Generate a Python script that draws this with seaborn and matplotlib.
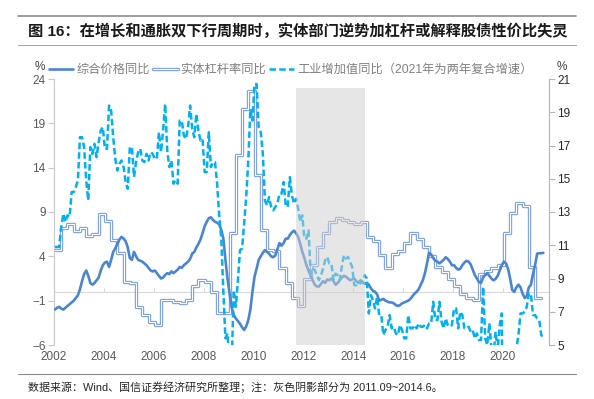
import numpy as np
import pandas as pd
import matplotlib
matplotlib.use('Agg')
import matplotlib.pyplot as plt
import matplotlib.patheffects as pe
import seaborn as sns
from matplotlib.lines import Line2D

# 综合价格同比（月度，2002-01 起）
price_yoy = [
    -2.0, -1.8, -1.7, -1.9, -2.0, -1.8, -1.6, -1.4, -1.2, -1.0, -0.7, -0.4,   # 2002
    0.3, 1.2, 2.0, 2.4, 1.8, 1.0, 0.8, 1.0, 1.3, 1.6, 2.4, 3.0,               # 2003
    3.3, 3.4, 2.8, 3.6, 4.5, 4.9, 5.4, 5.9, 6.2, 6.0, 5.7, 5.0,               # 2004
    3.8, 3.6, 4.5, 4.0, 3.6, 3.5, 3.4, 3.2, 3.0, 2.7, 2.4, 2.3,               # 2005
    2.4, 2.1, 1.8, 1.5, 1.6, 1.9, 2.1, 2.0, 2.3, 2.1, 2.3, 2.5,               # 2006
    2.8, 2.7, 3.0, 3.2, 3.4, 3.7, 4.3, 4.5, 5.0, 5.4, 5.9, 6.6,               # 2007
    7.4, 7.9, 8.3, 8.4, 8.1, 7.9, 7.8, 7.6, 7.0, 6.0, 3.6, 1.5,               # 2008
    -0.2, -1.8, -2.6, -3.0, -3.3, -3.6, -4.0, -4.3, -3.9, -3.2, -2.0, 0.0,    # 2009
    1.7, 2.6, 3.6, 4.0, 4.4, 4.7, 4.5, 4.3, 4.0, 3.9, 4.1, 4.8,               # 2010
    5.5, 5.2, 5.5, 6.0, 6.0, 6.4, 6.7, 6.9, 6.6, 6.2, 5.4, 4.5,               # 2011
    3.8, 3.0, 2.4, 1.8, 1.3, 0.8, 0.6, 0.6, 0.9, 1.2, 1.0, 1.4,               # 2012
    1.3, 1.5, 1.2, 0.8, 1.0, 1.3, 1.6, 1.8, 1.7, 1.5, 1.3, 1.4,               # 2013
    1.5, 1.2, 1.0, 1.3, 1.1, 0.9, 1.0, 0.8, 0.4, 0.1, 0.0, -0.3,              # 2014
    -1.0, -0.9, -0.8, -1.0, -1.1, -1.2, -1.2, -1.3, -1.5, -1.6, -1.5, -1.3,   # 2015
    -1.2, -1.1, -1.0, -0.8, -0.5, -0.2, 0.0, 0.3, 0.8, 1.3, 2.1, 3.2,         # 2016
    4.4, 4.2, 3.8, 3.5, 3.4, 3.2, 3.4, 3.6, 3.9, 3.7, 3.4, 3.0,               # 2017
    3.0, 2.7, 2.5, 2.6, 3.0, 3.3, 3.5, 3.4, 3.1, 2.5, 1.9, 1.5,               # 2018
    1.1, 1.0, 1.6, 1.9, 2.1, 1.8, 1.5, 1.3, 1.45, 1.8, 2.4, 3.0,              # 2019
    3.4, 3.2, 2.6, 1.5, 0.2, 0.0, 0.5, 0.8, 0.5, -0.2, -0.7, -0.5,            # 2020
    0.5, 0.8, 2.0, 3.0, 4.3, 4.35, 4.35, 4.4,                                 # 2021
]

# 工业增加值同比（月度，2002-01 起；2021年为两年复合增速）
iva_yoy = [
    10.9, 10.9, 10.9, 12.1, 12.9, 12.4, 12.8, 12.7, 14.2, 14.2, 14.5, 14.9,   # 2002
    17.5, 17.5, 16.9, 14.9, 13.7, 16.9, 16.5, 17.1, 16.3, 17.2, 17.9, 18.1,   # 2003
    16.8, 16.8, 19.4, 19.1, 17.5, 16.2, 15.5, 15.9, 16.1, 15.7, 14.8, 14.4,   # 2004
    16.9, 16.9, 15.1, 16.0, 16.6, 16.8, 16.1, 16.0, 16.5, 16.1, 16.6, 16.5,   # 2005
    16.2, 16.2, 17.8, 16.6, 17.9, 19.5, 16.7, 15.7, 16.1, 14.7, 14.9, 14.7,   # 2006
    18.5, 18.5, 17.6, 17.4, 18.1, 19.4, 18.0, 17.5, 18.9, 17.9, 17.3, 17.4,   # 2007
    15.4, 15.4, 17.8, 15.7, 16.0, 16.0, 14.7, 12.8, 11.4, 8.2, 5.4, 5.7,      # 2008
    3.8, 3.8, 8.3, 7.3, 8.9, 10.7, 10.8, 12.3, 13.9, 16.1, 19.2, 18.5,        # 2009
    20.7, 20.7, 18.1, 17.8, 16.5, 13.7, 13.4, 13.9, 13.3, 13.1, 13.3, 13.5,   # 2010
    14.1, 14.1, 14.8, 13.4, 13.3, 15.1, 14.0, 13.5, 13.8, 13.2, 12.4, 12.8,   # 2011
    11.4, 11.4, 11.9, 9.3, 9.6, 9.5, 9.2, 8.9, 9.2, 9.6, 10.1, 10.3,          # 2012
    9.9, 9.9, 8.9, 9.3, 9.2, 8.9, 9.7, 10.4, 10.2, 10.3, 10.0, 9.7,           # 2013
    8.6, 8.6, 8.8, 8.7, 8.8, 9.2, 9.0, 6.9, 8.0, 7.7, 7.2, 7.9,               # 2014
    6.8, 6.8, 5.6, 5.9, 6.1, 6.8, 6.0, 6.1, 5.7, 5.6, 6.2, 5.9,               # 2015
    5.4, 5.4, 6.8, 6.0, 6.0, 6.2, 6.0, 6.3, 6.1, 6.1, 6.2, 6.0,               # 2016
    6.3, 6.3, 7.6, 6.5, 6.5, 7.6, 6.4, 6.0, 6.6, 6.2, 6.1, 6.2,               # 2017
    7.2, 7.2, 6.0, 7.0, 6.8, 6.0, 6.0, 6.1, 5.8, 5.9, 5.4, 5.7,               # 2018
    5.3, 5.3, 8.5, 5.4, 5.0, 6.3, 4.8, 4.4, 5.8, 4.7, 6.2, 6.9,               # 2019
    -13.5, -13.5, -1.1, 3.9, 4.4, 4.8, 4.8, 5.6, 6.9, 6.9, 7.0, 7.3,          # 2020
    8.1, 8.1, 6.8, 6.8, 6.6, 6.5, 5.6, 5.4,                                   # 2021
]

# 实体杠杆率同比（季度，2002Q1 起）
lev_yoy = [
    4.7, 7.2, 7.6, 6.9,  7.2, 6.3, 6.5, 8.8,  8.0, 5.8, 4.4, 1.1,
    1.0, -1.7, -2.6, -3.4,  -3.7, -0.9, -0.9, -1.2,  -1.3, -0.9, 0.6, 1.3,
    1.1, 0.0, -2.4, -2.4,  6.6, 15.4, 20.6, 22.6,  13.2, 7.0, 4.7, 4.6,
    2.7, 1.0, -0.7, -1.6,  1.5, 3.0, 5.0, 6.6,  7.9, 8.3, 8.1, 7.9,
    7.7, 7.9, 6.2, 5.7,  4.2, 2.7, 4.3, 4.6,  5.5, 6.6, 5.9, 5.1,
    4.0, 2.8, 2.2, 1.4,  0.6, -0.3, -0.7, -0.9,  2.0, 2.3, 2.7, 3.0,
    6.6, 8.9, 10.0, 9.7,  2.8, -0.7, -0.7,
]

# 阴影区间：2011.09 ~ 2014.06
shade_start = pd.Timestamp('2011-09-15')
shade_end = pd.Timestamp('2014-06-15')
shade_top = 23

labels = ['综合价格同比', '实体杠杆率同比', '工业增加值同比（2021年为两年复合增速）']


def to_year(dates):
    return dates.year + (dates.month - 1) / 12 + dates.day / 365


month_x = to_year(pd.date_range('2002-01-01', periods=len(price_yoy), freq='MS') + pd.Timedelta(days=14))
iva_x = to_year(pd.date_range('2002-01-01', periods=len(iva_yoy), freq='MS') + pd.Timedelta(days=14))
lev_x = to_year(pd.date_range('2002-01-01', periods=len(lev_yoy), freq='QS') + pd.Timedelta(days=14))

df_price = pd.DataFrame({'x': month_x, 'y': price_yoy})
df_iva = pd.DataFrame({'x': iva_x, 'y': iva_yoy})
df_lev = pd.DataFrame({'x': lev_x, 'y': lev_yoy})

sns.set_style('white')
plt.rcParams['font.family'] = ['Liberation Sans', 'Noto Sans CJK SC', 'DejaVu Sans']
plt.rcParams['axes.unicode_minus'] = True

c_price = '#4a86d0'
c_lev = '#7b9fe2'
c_iva = '#00b0f0'

fig = plt.figure(figsize=(5.94, 3.99), dpi=100)
ax = fig.add_axes([54 / 594, 1 - 345 / 399, (549 - 54) / 594, (345 - 79) / 399])
ax2 = ax.twinx()

sns.lineplot(data=df_price, x='x', y='y', ax=ax, color=c_price, lw=1.9, zorder=3)
sns.lineplot(data=df_lev, x='x', y='y', ax=ax, color='white', lw=0.8, drawstyle='steps-post', zorder=2,
             path_effects=[pe.Stroke(linewidth=2.4, foreground=c_lev), pe.Normal()])
sns.lineplot(data=df_iva, x='x', y='y', ax=ax2, color=c_iva, lw=1.8, linestyle=(0, (2.6, 1.3)), zorder=3)

ax.set_xlim(2002.04, 2021.85)
ax.set_ylim(-6, 24)
ax2.set_ylim(5, 21)
ax.set_yticks(np.arange(-6, 25, 5))
ax2.set_yticks(np.arange(5, 22, 2))
ax.set_xticks(np.arange(2002, 2021, 2))
ax.set_xlabel('')
ax.set_ylabel('')
ax2.set_ylabel('')

for a in (ax, ax2):
    for s in ['top', 'bottom']:
        a.spines[s].set_visible(False)
ax.spines['right'].set_visible(False)
ax2.spines['left'].set_visible(False)
ax.spines['left'].set_color('#c8c8c8')
ax2.spines['right'].set_color('#b4b4b4')

ax.tick_params(axis='y', direction='out', length=4, color='#c8c8c8', labelsize=8.5,
               labelcolor='#595959', pad=2)
ax2.tick_params(axis='y', direction='out', length=4, color='#b4b4b4', labelsize=8.5,
                labelcolor='#262626', pad=2)
ax.tick_params(axis='x', length=0, labelsize=8.5, labelcolor='#595959', pad=4)

# 零轴（横轴线）
zero_axis = ax.secondary_xaxis(6 / 30)
zero_axis.set_xticks(np.arange(2002, 2021, 2))
zero_axis.tick_params(axis='x', direction='in', length=3, color='#d9d9d9', labelbottom=False,
                      labeltop=False)
zero_axis.spines['bottom'].set_color('#d9d9d9')
zero_axis.spines['top'].set_color('#d9d9d9')
zero_axis.set_xticklabels([])

# 灰色阴影
ax2.axvspan(to_year(shade_start), to_year(shade_end), ymin=0, ymax=(shade_top + 6) / 30,
            facecolor='#cfcfcf', alpha=0.5, lw=0, zorder=10)

# 图例
h_price = Line2D([], [], color=c_price, lw=1.9)
h_lev = Line2D([], [], color='white', lw=0.8,
               path_effects=[pe.Stroke(linewidth=2.4, foreground=c_lev), pe.Normal()])
h_iva = Line2D([], [], color=c_iva, lw=1.8, linestyle=(0, (2.6, 1.3)))
leg = fig.legend([h_price, h_lev, h_iva], labels, loc='center left',
                 bbox_to_anchor=(49 / 594, 1 - 70 / 399), ncol=3, frameon=False,
                 fontsize=8.8, handlelength=2.0, handletextpad=0.25, columnspacing=0.25,
                 borderpad=0, borderaxespad=0)
for t in leg.get_texts():
    t.set_color('#808080')

fig.text(40 / 594, 1 - 67 / 399, '%', fontsize=8.5, color='#404040', ha='center', va='center')
fig.text(562 / 594, 1 - 67 / 399, '%', fontsize=8.5, color='#404040', ha='center', va='center')

# 标题与注释
fig.add_artist(Line2D([18 / 594, 576 / 594], [1 - 16 / 399] * 2, color='#8c8c8c', lw=1.2))
fig.add_artist(Line2D([18 / 594, 576 / 594], [1 - 45 / 399] * 2, color='#a6a6a6', lw=0.8))
fig.add_artist(Line2D([18 / 594, 576 / 594], [1 - 374 / 399] * 2, color='#8c8c8c', lw=0.8))
fig.text(28 / 594, 1 - 31 / 399,
         '图 16：在增长和通胀双下行周期时，实体部门逆势加杠杆或解释股债性价比失灵',
         fontsize=11, fontweight='bold', color='#1a1a1a', ha='left', va='center')
fig.text(28 / 594, 1 - 387 / 399,
         '数据来源：Wind、国信证券经济研究所整理；注：灰色阴影部分为 2011.09~2014.6。',
         fontsize=7.9, color='#262626', ha='left', va='center')

fig.savefig('out.png', dpi=100)
